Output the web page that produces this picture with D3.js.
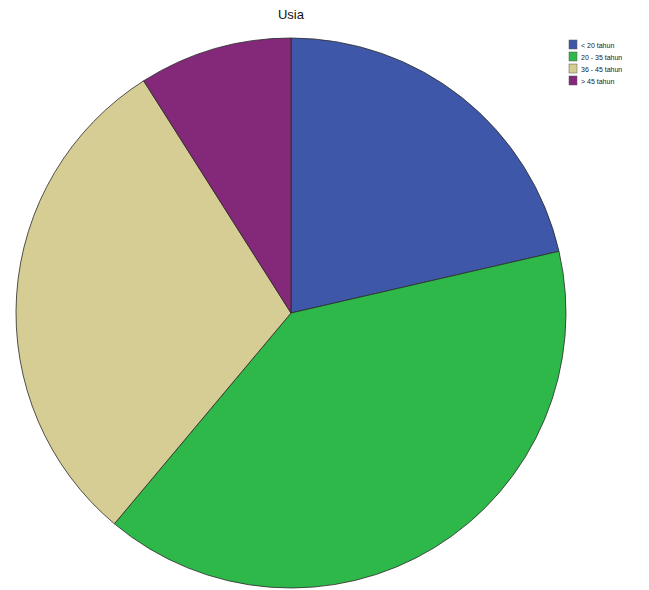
<!DOCTYPE html>
<html><head><meta charset="utf-8">
<script src="https://cdn.jsdelivr.net/npm/d3@7"></script>
<style>body{margin:0;background:#fff;}svg{display:block;}</style>
</head><body>
<svg id="chart" width="649" height="590"></svg>
<script>
const categories = ["< 20 tahun", "20 - 35 tahun", "36 - 45 tahun", "> 45 tahun"];
const values = [21.4, 39.7, 29.9, 9.0];
const colors = ["#3f57a8", "#2fb84a", "#d5cd93", "#84297a"];
const title = "Usia";

const svg = d3.select("#chart");
const cx = 291, cy = 313, r = 275;
const pie = d3.pie().sort(null).value(d => d)(values);
const arc = d3.arc().innerRadius(0).outerRadius(r);
const g = svg.append("g").attr("transform", `translate(${cx},${cy})`);
g.selectAll("path").data(pie).join("path")
  .attr("d", arc)
  .attr("fill", (d, i) => colors[i])
  .attr("stroke", "#2a2a2a")
  .attr("stroke-width", 0.8);

svg.append("text").attr("x", 291).attr("y", 19).attr("text-anchor", "middle")
  .attr("font-family", "Arial, Liberation Sans, sans-serif").attr("font-size", 13)
  .attr("fill", "#111").text(title);

const lg = svg.append("g").attr("transform", "translate(569,40)");
const items = lg.selectAll("g").data(categories).join("g")
  .attr("transform", (d, i) => `translate(0,${i * 12})`);
items.append("rect").attr("width", 8).attr("height", 9)
  .attr("fill", (d, i) => colors[i]).attr("stroke", "#555").attr("stroke-width", 0.5);
items.append("text").attr("x", 12).attr("y", 7.5)
  .attr("font-family", "Arial, Liberation Sans, sans-serif").attr("font-size", 7)
  .attr("fill", "#222").text(d => d);
</script>
</body></html>
